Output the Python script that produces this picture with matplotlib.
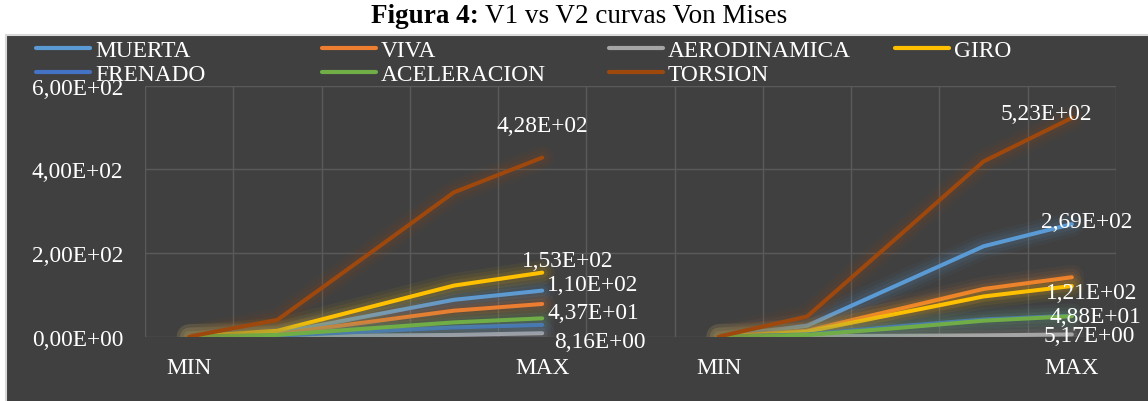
import numpy as np
import matplotlib
matplotlib.use("Agg")
import matplotlib.pyplot as plt
from matplotlib.patches import Rectangle
from matplotlib.lines import Line2D

# ---------------- data ----------------
categories = ["MIN", "", "", "", "MAX", "", "MIN", "", "", "", "MAX"]
nan = np.nan
muerta       = [0, 8, 48, 88, 110,   nan, 0, 26, 121, 216, 269]
viva         = [0, 6, 34, 62, 78,    nan, 0, 14, 64, 114, 142]
aerodinamica = [0, 1, 2.5, 4, 8.16,  nan, 0, 1, 2, 3, 5.17]
giro         = [0, 14, 68, 122, 153, nan, 0, 12, 54, 96, 121]
frenado      = [0, 2, 12, 22, 28,    nan, 0, 5, 24, 41, 50]
aceleracion  = [0, 4, 19, 34, 43.7,  nan, 0, 4, 20, 38, 48.8]
torsion      = [0, 40, 192, 345, 428, nan, 0, 48, 233, 419, 523]

series_names = ["MUERTA", "VIVA", "AERODINAMICA", "GIRO",
                "FRENADO", "ACELERACION", "TORSION"]
series_values = [muerta, viva, aerodinamica, giro, frenado, aceleracion, torsion]
colors = ["#5B9BD5", "#ED7D31", "#A5A5A5", "#FFC000",
          "#4472C4", "#70AD47", "#9E480E"]

y_ticks = [0, 200, 400, 600]
y_tick_labels = ["0,00E+00", "2,00E+02", "4,00E+02", "6,00E+02"]

# data labels: (series index, category index, text, offset px)
data_labels = [
    (6, 4, "4,28E+02", (0, 32)),
    (3, 4, "1,53E+02", (26, 12)),
    (0, 4, "1,10E+02", (50, 6)),
    (5, 4, "4,37E+01", (51, 6)),
    (2, 4, "8,16E+00", (58, -8)),
    (6, 10, "5,23E+02", (-26, 4)),
    (0, 10, "2,69E+02", (15, 3)),
    (3, 10, "1,21E+02", (20, -6)),
    (5, 10, "4,88E+01", (24, 0)),
    (2, 10, "5,17E+00", (17, -1)),
]

# ---------------- style ----------------
plt.rcParams["font.family"] = ["Liberation Serif", "DejaVu Serif"]
W, H = 1148, 402
BG = "#404040"
TXT = "#FFFFFF"
FS = 16.8

fig = plt.figure(figsize=(W / 100, H / 100), dpi=100)
fig.patch.set_facecolor("white")

def fx(px):
    return px / W

def fy(py):
    return 1 - py / H

# chart area background with light border (extends past right/bottom edges)
fig.add_artist(Rectangle((fx(6), -0.05), 1.0, fy(36) + 0.05, transform=fig.transFigure,
                         facecolor=BG, edgecolor="#D9D9D9", linewidth=1.5, zorder=0))

ax = fig.add_axes([fx(145), fy(337.6), fx(1116) - fx(145), fy(86.7) - fy(337.6)])
ax.set_facecolor(BG)
ax.patch.set_alpha(0)
for s in ax.spines.values():
    s.set_visible(False)

x = np.arange(len(categories))
ax.set_xlim(-0.5, len(categories) - 0.5)
ax.set_ylim(0, 600)

# grid
for gx in np.arange(-0.5, len(categories), 1.0):
    ax.axvline(gx, color="#5A5A5A", linewidth=1.0, zorder=0)
for gy in y_ticks:
    ax.axhline(gy, color="#5A5A5A", linewidth=1.0, zorder=0)

ax.set_yticks(y_ticks)
ax.set_yticklabels(y_tick_labels)
ax.set_xticks(x)
ax.set_xticklabels(categories)
ax.tick_params(axis="both", length=0, labelsize=FS, colors=TXT)
ax.tick_params(axis="y", pad=15.8)
ax.tick_params(axis="x", pad=15)

# glow + lines
for i, (vals, c) in enumerate(zip(series_values, colors)):
    z = 2 + i
    for lw, a in [(18, 0.05), (13, 0.07), (8, 0.09)]:
        ax.plot(x, vals, color=c, linewidth=lw, alpha=a,
                solid_capstyle="round", solid_joinstyle="round", zorder=z)
    ax.plot(x, vals, color=c, linewidth=2.9, solid_capstyle="round",
            solid_joinstyle="round", zorder=z + 0.5)

for si, ci, txt, (dx, dy) in data_labels:
    ax.annotate(txt, xy=(x[ci], series_values[si][ci]), xytext=(dx, dy),
                textcoords="offset pixels", ha="center", va="center",
                fontsize=FS, color=TXT, zorder=20)

# legend drawn manually
leg_cols_x = [36, 322, 609, 895]
leg_rows_y = [49, 73]
for k, (name, c) in enumerate(zip(series_names, colors)):
    r, col = divmod(k, 4)
    lx = leg_cols_x[col]
    ly = leg_rows_y[r]
    fig.add_artist(Line2D([fx(lx), fx(lx + 54)], [fy(ly), fy(ly)],
                          transform=fig.transFigure, color=c, linewidth=3.0,
                          solid_capstyle="round"))
    fig.text(fx(lx + 59), fy(ly + 8), name, fontsize=FS, color=TXT,
             ha="left", va="baseline")

# title
fig.text(fx(479), fy(23), "Figura 4:", fontsize=19.5, fontweight="bold",
         color="black", ha="right", va="baseline")
fig.text(fx(485), fy(23), "V1 vs V2 curvas Von Mises", fontsize=19.5,
         color="black", ha="left", va="baseline")

fig.savefig("out.png", dpi=100, facecolor=fig.get_facecolor())
